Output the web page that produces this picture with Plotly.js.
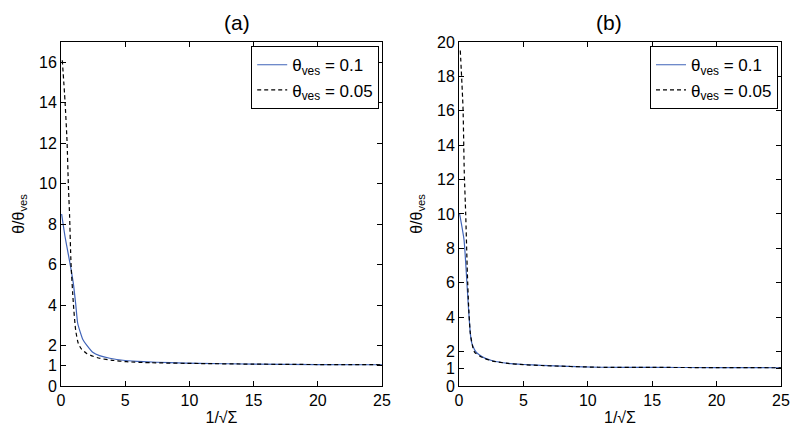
<!DOCTYPE html>
<html>
<head>
<meta charset="utf-8">
<script src="https://cdn.plot.ly/plotly-3.0.1.min.js"></script>
<style>
  html, body { margin: 0; padding: 0; background: #fff; }
  #chart { width: 800px; height: 432px; }
</style>
</head>
<body>
<div id="chart"></div>
<script>
// panel (a)
const xA_01 = [0.05, 0.31, 0.7, 0.96, 1.14, 1.3, 1.48, 1.7, 2.0, 2.5, 3.0, 3.8, 5.0, 6.4, 8.5, 10.8, 15, 20, 25];
const yA_01 = [8.5, 7.4, 6.06, 5.07, 4.08, 3.1, 2.7, 2.3, 2.02, 1.65, 1.5, 1.37, 1.26, 1.2, 1.15, 1.12, 1.08, 1.06, 1.05];
const xA_005 = [0.1, 0.31, 0.47, 0.57, 0.67, 0.78, 0.96, 1.14, 1.35, 1.6, 2.0, 2.5, 3.0, 4.0, 5.1, 7.0, 10.8, 15, 20, 25];
const yA_005 = [16.1, 14.1, 12.1, 10, 8.4, 6.06, 4.1, 2.77, 2.1, 1.82, 1.61, 1.47, 1.37, 1.27, 1.2, 1.15, 1.11, 1.08, 1.06, 1.05];

// panel (b)
const xB_01 = [0.05, 0.39, 0.57, 0.73, 0.88, 0.96, 1.09, 1.3, 1.6, 2.0, 2.6, 3.8, 5.0, 6.4, 8.5, 10.8, 15, 20, 25];
const yB_01 = [10, 8.5, 6.55, 4.6, 3.06, 2.6, 2.3, 2.0, 1.8, 1.62, 1.47, 1.32, 1.25, 1.2, 1.14, 1.09, 1.08, 1.07, 1.06];
const xB_005 = [0.1, 0.31, 0.41, 0.52, 0.65, 0.75, 0.88, 1.09, 1.22, 1.6, 2.0, 2.6, 3.8, 5.0, 6.4, 10.8, 15, 20, 25];
const yB_005 = [19.5, 16.2, 12.4, 10, 6.55, 4.6, 3.06, 2.2, 1.95, 1.75, 1.6, 1.45, 1.31, 1.24, 1.19, 1.09, 1.08, 1.07, 1.06];

const legendNames = ['θ<sub>ves</sub> = 0.1', 'θ<sub>ves</sub> = 0.05'];
const xTicks = [0, 5, 10, 15, 20, 25];
const yTicksA = [0, 1, 2, 4, 6, 8, 10, 12, 14, 16];
const yTicksB = [0, 1, 2, 4, 6, 8, 10, 12, 14, 16, 18, 20];
const titles = ['(a)', '(b)'];

const blue = '#3f63b8';
const font = { family: 'Liberation Sans, Arial, sans-serif', size: 16, color: '#000' };

const solid = { color: blue, width: 1.2, shape: 'spline', smoothing: 0.6 };
const dashed = { color: '#000', width: 1.2, dash: '4px,3px', shape: 'spline', smoothing: 0.6 };

const traces = [
    { x: xA_01, y: yA_01, mode: 'lines', name: legendNames[0], line: solid, xaxis: 'x', yaxis: 'y', legend: 'legend' },
    { x: xA_005, y: yA_005, mode: 'lines', name: legendNames[1], line: dashed, xaxis: 'x', yaxis: 'y', legend: 'legend' },
    { x: xB_01, y: yB_01, mode: 'lines', name: legendNames[0], line: solid, xaxis: 'x2', yaxis: 'y2', legend: 'legend2' },
    { x: xB_005, y: yB_005, mode: 'lines', name: legendNames[1], line: dashed, xaxis: 'x2', yaxis: 'y2', legend: 'legend2' }
];

function xAxis(domain, anchor) {
    return {
        domain: domain, anchor: anchor, range: [0, 25], tickvals: xTicks,
        ticks: 'inside', ticklen: 5, tickcolor: '#000', mirror: 'ticks',
        showline: true, linecolor: '#000', linewidth: 1, showgrid: false, zeroline: false,
        tickfont: font, title: { text: '1/√Σ', font: font, standoff: 3 }
    };
}
function yAxis(range, ticks, anchor) {
    return {
        domain: [0.1065, 0.9028], anchor: anchor, range: range, tickvals: ticks,
        ticks: 'inside', ticklen: 5, tickcolor: '#000', mirror: 'ticks',
        showline: true, linecolor: '#000', linewidth: 1, showgrid: false, zeroline: false,
        tickfont: font, title: { text: 'θ/θ<sub>ves</sub>', font: font, standoff: 10 }
    };
}
function legendAt(x) {
    return {
        x: x, xanchor: 'right', y: 0.893, yanchor: 'top', xref: 'paper', yref: 'paper',
        bgcolor: '#fff', bordercolor: '#000', borderwidth: 1, itemwidth: 30,
        font: { family: font.family, size: 17, color: '#000' }, tracegroupgap: 0
    };
}

const layout = {
    width: 800, height: 432,
    margin: { l: 0, r: 0, t: 0, b: 0 },
    paper_bgcolor: '#fff', plot_bgcolor: '#fff',
    showlegend: true,
    xaxis: xAxis([0.07625, 0.4775], 'y'),
    yaxis: yAxis([0, 17], yTicksA, 'x'),
    xaxis2: xAxis([0.57375, 0.97625], 'y2'),
    yaxis2: yAxis([0, 20], yTicksB, 'x2'),
    legend: legendAt(0.474),
    legend2: legendAt(0.9725),
    annotations: [
        { text: titles[0], x: 222 / 800, y: 1 - 22 / 432, xref: 'paper', yref: 'paper', yanchor: 'middle', showarrow: false, font: { family: font.family, size: 21, color: '#000' } },
        { text: titles[1], x: 624 / 800, y: 1 - 22 / 432, xref: 'paper', yref: 'paper', yanchor: 'middle', showarrow: false, font: { family: font.family, size: 21, color: '#000' } }
    ]
};

Plotly.newPlot('chart', traces, layout, { displayModeBar: false, staticPlot: true });
</script>
</body>
</html>
